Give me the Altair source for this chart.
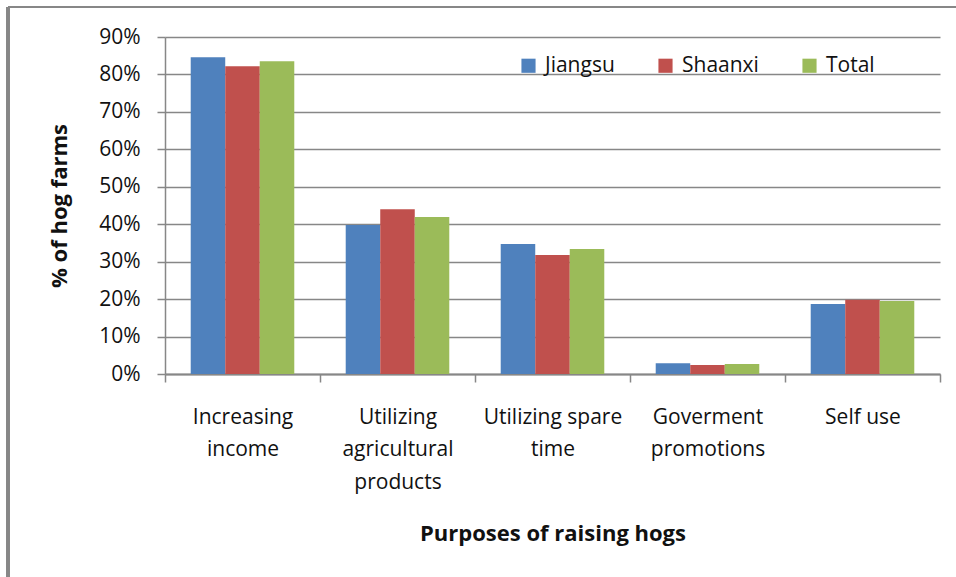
import json
import altair as alt
import pandas as pd

# Survey results: share of hog farms by purpose of raising hogs
purposes = [
    "Increasing income",
    "Utilizing agricultural products",
    "Utilizing spare time",
    "Goverment promotions",
    "Self use",
]
jiangsu = [0.846, 0.398, 0.347, 0.029, 0.187]
shaanxi = [0.822, 0.440, 0.318, 0.024, 0.198]
total = [0.835, 0.419, 0.334, 0.027, 0.195]

regions = ["Jiangsu", "Shaanxi", "Total"]
colors = ["#4F81BD", "#C0504D", "#9BBB59"]

# wrapped axis labels, one list of lines per category
label_lines = {
    "Increasing income": ["Increasing", "income"],
    "Utilizing agricultural products": ["Utilizing", "agricultural", "products"],
    "Utilizing spare time": ["Utilizing spare", "time"],
    "Goverment promotions": ["Goverment", "promotions"],
    "Self use": ["Self use"],
}

rows = []
for series, vals in zip(regions, [jiangsu, shaanxi, total]):
    for p, v in zip(purposes, vals):
        rows.append({"purpose": p, "region": series, "share": v})
df = pd.DataFrame(rows)

FONT = "Open Sans"
GRAY = "#878787"
TXT = "#111111"

W, H = 775, 337
LEFT, TOP = 165, 37

bars = alt.Chart(df).mark_bar().encode(
    x=alt.X(
        "purpose:N",
        sort=purposes,
        scale=alt.Scale(paddingInner=0, paddingOuter=0),
        axis=alt.Axis(
            title="Purposes of raising hogs",
            labelAngle=0,
            labelExpr=json.dumps(label_lines) + "[datum.value]",
            labelFont=FONT,
            labelFontSize=21,
            labelColor=TXT,
            labelLineHeight=32.5,
            labelPadding=24,
            labelBaseline="top",
            tickBand="extent",
            tickColor=GRAY,
            tickSize=8,
            tickWidth=1.5,
            domainColor=GRAY,
            domainWidth=2,
            grid=False,
            titleFont=FONT,
            titleFontSize=22,
            titleFontWeight="bold",
            titleColor=TXT,
            titlePadding=31,
        ),
    ),
    xOffset=alt.XOffset(
        "region:N",
        sort=regions,
        scale=alt.Scale(paddingInner=0, paddingOuter=0.745),
    ),
    y=alt.Y(
        "share:Q",
        scale=alt.Scale(domain=[0, 0.9], nice=False),
        axis=alt.Axis(
            title="% of hog farms",
            format=".0%",
            values=[i / 10 for i in range(10)],
            labelFont=FONT,
            labelFontSize=21,
            labelColor=TXT,
            labelPadding=17,
            tickColor=GRAY,
            tickSize=8,
            tickWidth=1.5,
            domainColor=GRAY,
            domainWidth=1.5,
            gridColor=GRAY,
            gridWidth=1.5,
            titleFont=FONT,
            titleFontSize=22,
            titleFontWeight="bold",
            titleColor=TXT,
            titlePadding=27,
        ),
    ),
    color=alt.Color(
        "region:N",
        sort=regions,
        scale=alt.Scale(domain=regions, range=colors),
        legend=alt.Legend(
            title=None,
            orient="none",
            legendX=353,
            legendY=18,
            direction="horizontal",
            symbolType="square",
            symbolSize=200,
            symbolStrokeWidth=0,
            labelFont=FONT,
            labelFontSize=21,
            labelColor=TXT,
            labelOffset=6,
            columnPadding=40,
        ),
    ),
)

# outer chart frame (left and top edges)
frame_left = alt.Chart(df).mark_rule(color=GRAY, strokeWidth=2.5, clip=False).encode(
    x=alt.value(8 - LEFT), y=alt.value(7 - TOP), y2=alt.value(577 - TOP)
)
frame_top = alt.Chart(df).mark_rule(color=GRAY, strokeWidth=1.5, clip=False).encode(
    x=alt.value(8 - LEFT), x2=alt.value(956 - LEFT), y=alt.value(7 - TOP)
)

chart = (
    alt.layer(bars, frame_left, frame_top)
    .properties(
        width=W,
        height=H,
        autosize=alt.AutoSizeParams(type="none"),
        padding={"left": LEFT, "top": TOP, "right": 956 - LEFT - W, "bottom": 577 - TOP - H},
        background="#FFFFFF",
    )
    .configure_view(stroke=None)
)

chart.save("out.html", embed_options={"renderer": "svg", "actions": False})
